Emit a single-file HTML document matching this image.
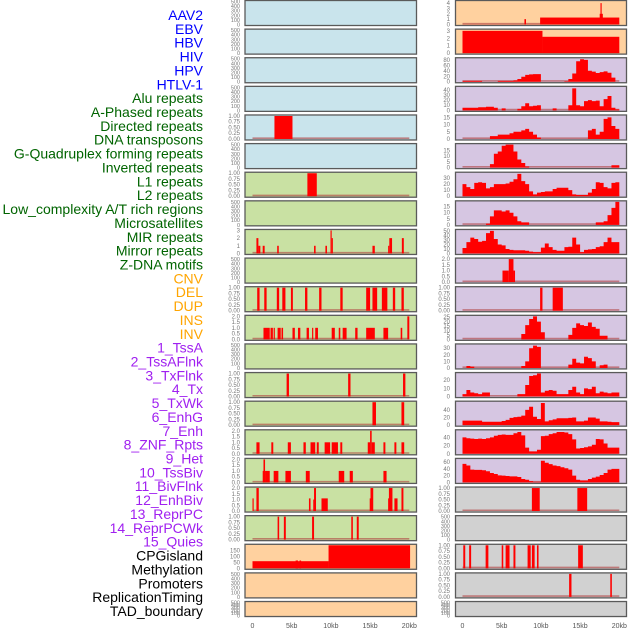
<!DOCTYPE html>
<html><head><meta charset="utf-8">
<style>
html,body{margin:0;padding:0;background:#fff;}
svg{display:block;font-family:"Liberation Sans",sans-serif;}
</style></head>
<body>
<svg id="chart" width="630" height="630" viewBox="0 0 630 630" xmlns="http://www.w3.org/2000/svg">
<g id="labels" font-size="14" text-anchor="end"></g>
<g id="panels"></g>
<g id="xaxis" font-size="7" fill="#555" text-anchor="middle"></g>
</svg>
<script>
// ---- track label data ----
const labelNames = ["AAV2","EBV","HBV","HIV","HPV","HTLV-1","Alu repeats","A-Phased repeats","Directed repeats","DNA transposons","G-Quadruplex forming repeats","Inverted repeats","L1 repeats","L2 repeats","Low_complexity A/T rich regions","Microsatellites","MIR repeats","Mirror repeats","Z-DNA motifs","CNV","DEL","DUP","INS","INV","1_TssA","2_TssAFlnk","3_TxFlnk","4_Tx","5_TxWk","6_EnhG","7_Enh","8_ZNF_Rpts","9_Het","10_TssBiv","11_BivFlnk","12_EnhBiv","13_ReprPC","14_ReprPCWk","15_Quies","CPGisland","Methylation","Promoters","ReplicationTiming","TAD_boundary"];
const labelGroups = [6,13,5,15,5];
const xTickKb = [0,5,10,15,20];
const xTickLabels = ["0","5kb","10kb","15kb","20kb"];

// ---- tick label sets ----
const t500 = [0,100,200,300,400,500];
const t1 = [0,0.25,0.5,0.75,1];
const t2 = [0,0.5,1,1.5,2];
const t3 = [0,1,2,3];
const t4 = [0,1,2,3,4];
const t150 = [0,50,100,150];
const t80 = [0,20,40,60,80];
const t40 = [0,10,20,30,40];
const t50 = [0,10,20,30,40,50];
const t15 = [0,5,10,15];
const t30 = [0,10,20,30];
const t25 = [0,5,10,15,20,25];
const t20 = [0,10,20];
const t40b = [0,20,40];
const t60 = [0,20,40,60];

// ---- segment data: [startKb, endKb, value] ----
const segL4 = [[2.8,5.1,1]];
const segL6 = [[7.0,8.2,1]];
const segL8 = [[0.5,0.75,2],[0.75,1.0,1],[1.3,1.55,1],[3.15,3.35,1],[7.85,8.05,1],[9.3,9.5,1],[9.95,10.1,3],[10.1,10.25,2],[15.3,15.6,1],[17.3,17.45,1],[17.45,17.8,2],[19.05,19.3,2]];
const segL10 = [[0.6,0.9,1],[1.5,1.8,1],[3.1,3.4,1],[3.8,4.2,1],[4.9,5.15,1],[6.7,7.0,1],[8.5,8.8,1],[11.2,11.5,1],[14.5,15.0,1],[15.3,15.9,1],[16.5,17.2,1],[17.9,18.2,1],[19.0,19.3,1]];
const segL11 = [[1.4,2.2,1],[2.3,2.6,1],[2.7,2.85,1],[3.2,3.6,1],[3.7,3.9,1],[5.1,5.4,1],[5.8,6.1,1],[6.9,7.2,1],[7.6,7.75,1],[8.0,8.35,1],[10.1,10.5,1],[11.0,11.2,1],[11.5,12.0,1],[13.1,13.4,1],[14.5,15.6,1],[16.7,17.3,1],[18.9,19.1,1],[19.75,20.0,2]];
const segL13 = [[4.35,4.65,1],[12.2,12.5,1],[19.2,19.5,1]];
const segL14 = [[15.3,15.75,1],[19.0,19.35,1]];
const segL15 = [[0.5,0.9,1],[2.4,2.65,1],[4.5,4.9,1],[6.5,6.8,1],[7.4,8.0,1],[8.2,8.45,1],[9.2,9.9,1],[10.1,10.9,1],[11.2,11.45,1],[14.7,15.0,1],[15.0,15.2,2],[15.2,15.6,1],[16.7,16.95,1],[18.1,18.35,1],[19.0,19.35,1]];
const segL16 = [[1.3,1.4,1],[1.4,1.6,2],[1.6,2.2,1],[2.7,3.3,1],[4.2,4.9,1],[6.8,7.3,1],[11.0,11.7,1],[12.4,12.8,1],[16.7,17.1,1]];
const segL17 = [[0.0,0.15,1.1],[0.5,0.8,2],[7.2,7.4,1.1],[7.75,7.85,1],[7.85,8.1,2],[8.8,9.6,1.1],[14.95,15.05,1.1],[15.05,15.4,2],[17.3,17.4,1.1],[17.4,17.85,2],[18.1,18.5,1.1],[19.0,19.25,2]];
const segL18 = [[3.2,3.4,1],[4.0,4.25,1],[7.6,7.85,1],[12.6,12.8,1],[13.3,13.55,1]];
const segL19 = [[0,9.7,60],[5.5,5.8,66],[6.0,6.2,66],[9.7,20.1,200]];
const segR0 = [[0,20,0.02],[7.9,8.1,1],[9.9,20,1.3],[17.5,17.9,2],[17.6,17.75,4]];
const segR1 = [[0,10.2,3],[10.2,20,2.2]];
const segR9 = [[5.1,5.9,1],[5.9,6.5,2],[6.5,6.7,1]];
const segR10 = [[9.9,10.2,1],[11.5,12.8,1]];
const segR17 = [[8.85,9.85,1],[14.65,15.9,1]];
const segR19 = [[0.1,0.35,1],[0.85,1.1,1],[2.95,3.3,1],[5.0,5.2,1],[5.5,6.0,1],[6.5,6.75,1],[8.3,8.7,1],[8.85,9.2,1],[9.5,9.7,1],[14.75,15.35,1]];
const segR20 = [[13.6,13.9,1],[18.85,19.05,1]];

// ---- binned profile data: 40 bins of 0.5kb ----
const profR2 = [3,3,3,3,3,0,0,0,0,3,3,3,3,5,10,18,25,27,28,28,0,0,0,0,0,0,2,10,30,75,82,80,40,37,32,35,38,33,15,0];
const profR3 = [5,5,5,5,6,6,7,7,5,0,4,0,0,0,3,8,14,8,9,10,0,0,0,4,0,0,0,10,43,10,8,18,20,18,19,8,22,28,5,2];
const profR4 = [0,0,0,0,0,0,0,2,2,3,3,3,4,5,5,6,7,5,3,1,0,0,0,0,0,0,0,0,0,0,0,0,6,7,3,5,14,15,9,7];
const profR5 = [0,0,0,0,0,0,0,3,12,14,19,20,20,14,7,4,1,0,0,0,0,0,0,0,0,0,0,0,0,0,0,0,0,0,0,0,0,0,2,2];
const profR6 = [20,15,12,22,23,22,13,15,20,20,20,21,24,28,37,25,20,8,3,6,7,8,8,12,14,14,14,10,3,2,2,2,6,12,23,22,15,13,22,23];
const profR7 = [0,0,0,0,0,0,1,7,12,12,11,12,10,7,3,2,2,0,0,0,0,0,0,0,0,0,0,0,0,0,0,0,0,0,2,2,3,8,14,19];
const profR8 = [12,25,35,32,26,28,45,50,32,20,18,10,8,7,7,7,6,4,3,3,13,22,14,8,6,6,14,15,35,20,3,8,9,10,14,16,25,35,25,25];
const profR11 = [0,0,0,0,0,0,0,0,0,0,0,0,0,0,0,6,16,23,26,20,8,0,0,0,0,0,0,5,13,18,16,15,19,14,12,4,4,0,0,0];
const profR12 = [0,3,2,0,0,0,0,0,0,0,0,0,0,0,0,3,10,30,34,32,0,0,0,0,0,0,0,5,14,8,7,17,15,10,0,4,5,0,0,0];
const profR13 = [3,8,5,4,3,5,5,0,0,0,0,0,0,0,3,3,14,25,26,28,5,7,8,7,3,3,3,8,12,5,3,10,9,12,4,6,5,4,5,5];
const profR14 = [12,12,12,12,12,9,9,9,9,9,11,14,19,21,22,25,40,48,22,16,58,10,13,15,18,18,18,19,20,10,10,12,20,20,17,10,10,9,8,8];
const profR15 = [40,38,37,36,37,36,38,40,44,46,47,46,46,50,53,45,15,6,6,10,43,44,48,50,53,53,52,48,35,13,14,16,18,22,36,35,25,15,15,15];
const profR16 = [55,50,38,37,37,36,33,28,25,21,20,19,18,18,16,10,8,4,2,2,64,58,54,50,48,45,42,38,20,8,6,6,10,14,17,22,28,38,40,40];

// ---- panel configuration: [column, row, colour key, ymax, ticks, tickDecimals, kind, data] ----
const panelDefs = [
 ["L",0,"blue",500,t500,0,"empty",null],["L",1,"blue",500,t500,0,"empty",null],
 ["L",2,"blue",500,t500,0,"empty",null],["L",3,"blue",500,t500,0,"empty",null],
 ["L",4,"blue",1,t1,2,"seg",segL4],["L",5,"blue",500,t500,0,"empty",null],
 ["L",6,"green",1,t1,2,"seg",segL6],["L",7,"green",500,t500,0,"empty",null],
 ["L",8,"green",3,t3,0,"seg",segL8],["L",9,"green",500,t500,0,"empty",null],
 ["L",10,"green",1,t1,2,"seg",segL10],["L",11,"green",2,t2,1,"seg",segL11],
 ["L",12,"green",500,t500,0,"empty",null],["L",13,"green",1,t1,2,"seg",segL13],
 ["L",14,"green",1,t1,2,"seg",segL14],["L",15,"green",2,t2,1,"seg",segL15],
 ["L",16,"green",2,t2,1,"seg",segL16],["L",17,"green",2,t2,1,"seg",segL17],
 ["L",18,"green",1,t1,2,"seg",segL18],["L",19,"orange",195,t150,0,"seg",segL19],
 ["L",20,"orange",500,t500,0,"empty",null],["L",21,"orange",500,t500,0,"empty",null],
 ["R",0,"orange",4.3,t4,0,"seg",segR0],["R",1,"orange",3.1,t3,0,"seg",segR1],
 ["R",2,"purple",84,t80,0,"prof",profR2],["R",3,"purple",45,t40,0,"prof",profR3],
 ["R",4,"purple",16,t15,0,"prof",profR4],["R",5,"purple",20,t15,0,"prof",profR5],
 ["R",6,"purple",38,t30,0,"prof",profR6],["R",7,"purple",19,t15,0,"prof",profR7],
 ["R",8,"purple",51,t50,0,"prof",profR8],["R",9,"purple",2,t2,1,"seg",segR9],
 ["R",10,"purple",1,t1,2,"seg",segR10],["R",11,"purple",26,t25,0,"prof",profR11],
 ["R",12,"purple",35,t30,0,"prof",profR12],["R",13,"purple",28,t20,0,"prof",profR13],
 ["R",14,"purple",60,t40b,0,"prof",profR14],["R",15,"purple",56,t40b,0,"prof",profR15],
 ["R",16,"purple",68,t60,0,"prof",profR16],["R",17,"grey",1,t1,2,"seg",segR17],
 ["R",18,"grey",500,t500,0,"empty",null],["R",19,"grey",1,t1,2,"seg",segR19],
 ["R",20,"grey",1,t1,2,"seg",segR20],["R",21,"grey",500,t500,0,"empty",null]
];

const NS = "http://www.w3.org/2000/svg";
const bgColors = {blue:"#c9e4ec",green:"#c9e1a3",orange:"#ffd19f",purple:"#d6c6e2",grey:"#d1d1d1"};
const groupColors = ["#0000ff","#006400","#ffa500","#a020f0","#000000"];
const colGeom = {L:{box:245,w:171.5,x0:252.5,tick:240},R:{box:455.5,w:171,x0:462.5,tick:450}};
const PXKB = 7.84, PITCH = 28.62;

function mk(tag, attrs, parent){const e=document.createElementNS(NS,tag);for(const k in attrs)e.setAttribute(k,attrs[k]);parent.appendChild(e);return e;}

// labels
const labG = document.getElementById("labels");
let gi=0, gc=0;
labelNames.forEach((n,i)=>{
  const t = mk("text",{x:203,y:20+i*13.86,fill:groupColors[gi]},labG);
  
  
  t.textContent=n;
  gc++; if(gc>=labelGroups[gi]){gi++;gc=0;}
});

// panels
const pg = document.getElementById("panels");
panelDefs.forEach(d=>{
  const [col,row,color,ymax,ticks,dec,kind,data]=d;
  const g = colGeom[col];
  const top = 0.5+row*PITCH;
  const h = row===21?15:25;
  const yBot = top+h-1, yTop = top+1;
  const ys = v=> yBot - Math.min(v,ymax)/ymax*(yBot-yTop);
  const xs = kb=> g.x0 + kb*PXKB;
  const grp = mk("g",{},pg);
  
  
  const bg = mk("rect",{x:g.box,y:top,width:g.w,height:h,fill:bgColors[color]},grp);
  
  
  if(kind!=="empty"){
    const bl = mk("line",{x1:xs(0),x2:xs(20),y1:yBot-0.8,y2:yBot-0.8,stroke:"#b04040","stroke-width":1.6,opacity:0.6},grp);
    
    
  }
  if(kind==="seg"){
    data.forEach(s=>{
      const r = mk("rect",{x:xs(s[0]),y:ys(s[2]),width:Math.max(1,xs(s[1])-xs(s[0])),height:yBot-ys(s[2]),fill:"#ff0000"},grp);
      
      
    });
  } else if(kind==="prof"){
    let p = "M"+xs(0)+","+yBot;
    data.forEach((v,i)=>{p+=" L"+xs(i*0.5)+","+ys(v)+" L"+xs((i+1)*0.5)+","+ys(v);});
    p += " L"+xs(20)+","+yBot+" Z";
    const a = mk("path",{d:p,fill:"#ff0000"},grp);
    
    
  }
  const fr = mk("rect",{x:g.box,y:top,width:g.w,height:h,fill:"none",stroke:"#5a5a5a","stroke-width":1.3},grp);
  
  
  const tg = mk("g",{"font-size":kind==="empty"?5.5:6,fill:"#777","text-anchor":"end"},grp);
  
  
  ticks.forEach(v=>{
    const t = mk("text",{x:g.tick,y:ys(v)+2},tg);
    
    
    t.textContent = v.toFixed(dec);
  });
});

// x axes
const xg = document.getElementById("xaxis");
["L","R"].forEach(c=>{
  xTickKb.forEach((k,i)=>{
    const t = mk("text",{x:colGeom[c].x0+k*PXKB,y:628},xg);
    
    
    t.textContent = xTickLabels[i];
  });
});
</script>
</body></html>
